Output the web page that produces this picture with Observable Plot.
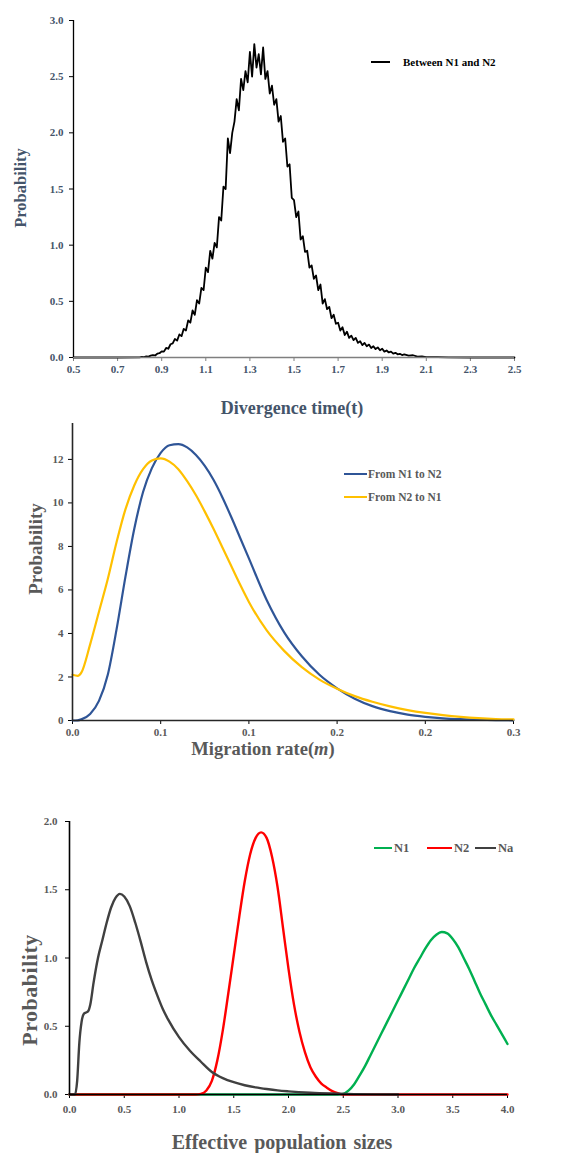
<!DOCTYPE html>
<html>
<head>
<meta charset="utf-8">
<script src="https://cdn.jsdelivr.net/npm/d3@7"></script>
<script src="https://cdn.jsdelivr.net/npm/@observablehq/plot@0.6"></script>
<style>
  body { margin: 0; background: #fff; }
  #wrap { position: relative; width: 571px; height: 1153px; background: #fff; overflow: hidden;
          font-family: "Liberation Serif", "Times New Roman", serif; font-weight: bold; }
  .abs { position: absolute; white-space: nowrap; }
  .c { transform: translate(-50%, -50%); }
  .rot { transform: translate(-50%, -50%) rotate(-90deg); }
  .sw { position: absolute; height: 0; }
  #wrap svg { position: absolute; left: 0; }
</style>
</head>
<body>
<div id="wrap"></div>
<script>
// ---------- Panel 1: Divergence time ----------
const divTime = [0.5, 0.7,
  0.80,0.81,0.82,0.83,0.84,0.85,0.86,0.87,0.88,0.89,
  0.90,0.91,0.92,0.93,0.94,0.95,0.96,0.97,0.98,0.99,
  1.00,1.01,1.02,1.03,1.04,1.05,1.06,1.07,1.08,1.09,
  1.10,1.11,1.12,1.13,1.14,1.15,1.16,1.17,1.18,1.19,
  1.20,1.21,1.22,1.23,1.24,1.25,1.26,1.27,1.28,1.29,
  1.30,1.31,1.32,1.33,1.34,1.35,1.36,1.37,1.38,1.39,
  1.40,1.41,1.42,1.43,1.44,1.45,1.46,1.47,1.48,1.49,
  1.50,1.51,1.52,1.53,1.54,1.55,1.56,1.57,1.58,1.59,
  1.60,1.61,1.62,1.63,1.64,1.65,1.66,1.67,1.68,1.69,
  1.70,1.71,1.72,1.73,1.74,1.75,1.76,1.77,1.78,1.79,
  1.80,1.81,1.82,1.83,1.84,1.85,1.86,1.87,1.88,1.89,
  1.90,1.91,1.92,1.93,1.94,1.95,1.96,1.97,1.98,1.99,
  2.00,2.02,2.04,2.06,2.08,2.10,2.15,2.20,2.30,2.50];
const divProb = [0, 0,
  0.002,0.006,0.004,0.010,0.008,0.016,0.022,0.018,0.034,0.038,
  0.055,0.052,0.085,0.078,0.118,0.125,0.165,0.150,0.205,0.190,
  0.255,0.240,0.330,0.310,0.420,0.380,0.510,0.480,0.620,0.600,
  0.800,0.760,0.950,0.880,1.020,0.980,1.250,1.220,1.520,1.500,
  1.950,1.820,2.000,2.100,2.300,2.200,2.480,2.380,2.550,2.450,
  2.720,2.500,2.790,2.580,2.700,2.520,2.760,2.480,2.550,2.350,
  2.420,2.250,2.300,2.100,2.150,1.920,1.950,1.700,1.720,1.420,
  1.400,1.250,1.300,1.050,1.080,0.940,0.950,0.800,0.820,0.700,
  0.730,0.600,0.650,0.480,0.520,0.430,0.450,0.350,0.380,0.300,
  0.310,0.240,0.270,0.200,0.230,0.175,0.195,0.155,0.175,0.130,
  0.145,0.110,0.130,0.100,0.115,0.085,0.100,0.075,0.090,0.065,
  0.078,0.052,0.062,0.045,0.052,0.035,0.042,0.028,0.033,0.022,
  0.028,0.016,0.020,0.008,0.010,0.004,0.003,0.001,0,0];
const divXTicks = [0.5,0.7,0.9,1.1,1.3,1.5,1.7,1.9,2.1,2.3,2.5];
const divYTicks = [0,0.5,1.0,1.5,2.0,2.5,3.0];

// ---------- Panel 2: Migration rate ----------
const migRate = [0,0.003,0.005,0.01,0.015,0.02,0.025,0.03,0.035,0.04,0.045,0.05,0.055,0.06,0.065,0.07,0.075,0.08,0.085,0.09,0.095,0.1,
  0.11,0.12,0.13,0.14,0.15,0.16,0.17,0.18,0.19,0.2,0.21,0.22,0.23,0.24,0.25];
const migN1toN2 = [0,0.01,0.05,0.3,0.9,2.1,4.2,6.6,8.8,10.5,11.6,12.3,12.65,12.7,12.55,12.2,11.7,11.05,10.25,9.35,8.4,7.45,
  5.55,4.05,2.95,2.1,1.48,1.0,0.66,0.43,0.27,0.17,0.1,0.06,0.035,0.02,0.01];
const migN2toN1 = [2.1,2.05,2.2,3.5,5.0,6.5,8.2,9.7,10.8,11.55,11.95,12.05,11.9,11.55,11.0,10.35,9.6,8.8,7.95,7.1,6.25,5.45,
  4.15,3.2,2.45,1.88,1.46,1.12,0.86,0.65,0.48,0.35,0.25,0.17,0.11,0.07,0.05];
const migXTicks = [0,0.05,0.1,0.15,0.2,0.25];
const migXLabels = ["0.0","0.1","0.1","0.2","0.2","0.3"];
const migYTicks = [0,2,4,6,8,10,12];

// ---------- Panel 3: Effective population sizes ----------
const naX = [0,0.05,0.07,0.09,0.11,0.13,0.15,0.17,0.19,0.22,0.26,0.3,0.34,0.38,0.42,0.46,0.5,0.55,0.6,0.65,0.7,0.75,0.8,0.85,0.9,
  1.0,1.1,1.2,1.3,1.4,1.5,1.6,1.7,1.8,1.9,2.0,2.2,2.4,2.6,2.8,3.0];
const naY = [0,0,0.1,0.38,0.53,0.59,0.6,0.61,0.66,0.82,1.0,1.13,1.26,1.37,1.44,1.47,1.45,1.38,1.26,1.12,0.97,0.84,0.73,0.63,0.55,
  0.42,0.32,0.24,0.165,0.12,0.09,0.068,0.052,0.04,0.03,0.023,0.013,0.007,0.003,0.001,0];
const n2X = [0,1.15,1.2,1.25,1.3,1.35,1.4,1.45,1.5,1.55,1.6,1.65,1.7,1.75,1.8,1.85,1.9,1.95,2.0,2.05,2.1,2.15,2.2,2.25,2.3,2.35,2.4,2.45,2.5,4.0];
const n2Y = [0,0,0.005,0.03,0.1,0.25,0.47,0.74,1.02,1.3,1.56,1.76,1.88,1.92,1.88,1.74,1.52,1.22,0.92,0.66,0.46,0.31,0.2,0.13,0.08,0.05,0.025,0.01,0,0];
const n1X = [0,2.45,2.5,2.55,2.6,2.65,2.7,2.75,2.8,2.85,2.9,2.95,3.0,3.05,3.1,3.15,3.2,3.25,3.3,3.35,3.4,3.45,3.5,3.55,3.6,3.65,3.7,3.75,3.8,3.85,3.9,3.95,4.0];
const n1Y = [0,0,0.005,0.03,0.075,0.14,0.21,0.29,0.37,0.45,0.53,0.61,0.69,0.77,0.85,0.93,1.0,1.07,1.13,1.17,1.19,1.18,1.14,1.08,1.0,0.92,0.83,0.74,0.66,0.58,0.51,0.44,0.37];
const popXTicks = [0,0.5,1.0,1.5,2.0,2.5,3.0,3.5,4.0];
const popYTicks = [0,0.5,1.0,1.5,2.0];

const f1 = d3.format(".1f");
const baseStyle = {fontFamily: "Liberation Serif, serif", fontWeight: "bold", fontSize: "11px", background: "transparent", overflow: "visible"};
const wrap = document.getElementById("wrap");

function place(svg, top) { svg.style.top = top + "px"; wrap.appendChild(svg); }
function label(text, x, y, size, color, cls, extra) {
  const d = document.createElement("div");
  d.className = "abs " + cls;
  d.style.left = x + "px"; d.style.top = y + "px";
  d.style.fontSize = size + "px"; d.style.color = color;
  if (extra) Object.assign(d.style, extra);
  d.innerHTML = text;
  wrap.appendChild(d);
}
function swatch(x1, x2, y, color, w) {
  const d = document.createElement("div");
  d.className = "sw";
  d.style.left = x1 + "px"; d.style.width = (x2 - x1) + "px";
  d.style.top = (y - w / 2) + "px";
  d.style.borderTop = w + "px solid " + color;
  wrap.appendChild(d);
}

// Panel 1
const d1 = divTime.map((t, i) => ({t, p: divProb[i]}));
place(Plot.plot({
  width: 571, height: 400, marginTop: 20, marginBottom: 43, marginLeft: 73, marginRight: 57,
  style: baseStyle,
  x: {domain: [0.5, 2.5]}, y: {domain: [0, 3]},
  marks: [
    Plot.axisY({ticks: divYTicks, tickFormat: f1, tickSize: 4, tickPadding: 6, stroke: "#000", fill: "#44546a", label: null}),
    Plot.axisX({ticks: divXTicks, tickFormat: f1, tickSize: 4, tickPadding: 4, stroke: "#7f7f7f", fill: "#44546a", label: null}),
    Plot.line(d1, {x: "t", y: "p", stroke: "#000", strokeWidth: 1.8}),
    Plot.ruleY([0], {stroke: "#7f7f7f", strokeWidth: 1.6}),
    Plot.ruleX([0.5], {stroke: "#000", strokeWidth: 1.3})
  ]
}), 0);
label("Probability", 21, 188, 16.5, "#44546a", "rot");
label("Divergence time(t)", 292, 408, 18, "#44546a", "c");
swatch(371, 390, 62, "#000", 2);
label("Between N1 and N2", 403, 62, 11, "#000", "", {transform: "translateY(-50%)"});

// Panel 2
const d2 = [
  ...migRate.map((m, i) => ({m, p: migN1toN2[i], s: "From N1 to N2"})),
  ...migRate.map((m, i) => ({m, p: migN2toN1[i], s: "From N2 to N1"}))
];
place(Plot.plot({
  width: 571, height: 345, marginTop: 8, marginBottom: 40, marginLeft: 72, marginRight: 58,
  style: baseStyle,
  x: {domain: [0, 0.25]}, y: {domain: [0, 13.65]},
  color: {domain: ["From N1 to N2", "From N2 to N1"], range: ["#2f5597", "#ffc000"]},
  marks: [
    Plot.axisY({ticks: migYTicks, tickFormat: d => String(d), tickSize: 4, tickPadding: 5, stroke: "#000", fill: "#595959", label: null}),
    Plot.axisX({ticks: migXTicks, tickFormat: d => migXLabels[migXTicks.indexOf(d)], tickSize: 4, tickPadding: 4, stroke: "#000", fill: "#595959", label: null}),
    Plot.line(d2, {x: "m", y: "p", stroke: "s", strokeWidth: 2.2, curve: "monotone-x"}),
    Plot.ruleY([0], {stroke: "#262626", strokeWidth: 1.6}),
    Plot.ruleX([0], {stroke: "#262626", strokeWidth: 1.6})
  ]
}), 415);
label("Probability", 36, 549, 19, "#595959", "rot");
label("Migration rate(<i>m</i>)", 263, 749, 18.5, "#595959", "c");
swatch(344, 367, 474, "#2f5597", 2.5);
label("From N1 to N2", 368, 474, 11.5, "#595959", "", {transform: "translateY(-50%)"});
swatch(344, 367, 497, "#ffc000", 2.5);
label("From N2 to N1", 368, 497, 11.5, "#595959", "", {transform: "translateY(-50%)"});

// Panel 3
const d3data = [
  ...n1X.map((x, i) => ({x, p: n1Y[i], s: "N1"})),
  ...n2X.map((x, i) => ({x, p: n2Y[i], s: "N2"})),
  ...naX.map((x, i) => ({x, p: naY[i], s: "Na"}))
];
place(Plot.plot({
  width: 571, height: 363, marginTop: 31, marginBottom: 59, marginLeft: 69, marginRight: 64,
  style: baseStyle,
  x: {domain: [0, 4]}, y: {domain: [0, 2]},
  color: {domain: ["N1", "N2", "Na"], range: ["#00b050", "#ff0000", "#404040"]},
  marks: [
    Plot.axisY({ticks: popYTicks, tickFormat: f1, tickSize: 4, tickPadding: 8, stroke: "#000", fill: "#595959", label: null}),
    Plot.axisX({ticks: popXTicks, tickFormat: f1, tickSize: 4, tickPadding: 7, stroke: "#000", fill: "#595959", label: null}),
    Plot.line(d3data, {x: "x", y: "p", stroke: "s", z: "s", strokeWidth: 2.4, curve: "monotone-x"}),
    Plot.ruleY([0], {stroke: "#000", strokeWidth: 1.4}),
    Plot.ruleX([0], {stroke: "#000", strokeWidth: 1.6})
  ]
}), 790);
label("Probability", 30, 990, 22, "#595959", "rot", {letterSpacing: "0.5px"});
label("Effective population sizes", 282, 1142, 20, "#595959", "c", {wordSpacing: "2px"});
swatch(374, 392, 848, "#00b050", 2.5);
label("N1", 394, 848, 12.5, "#595959", "", {transform: "translateY(-50%)"});
swatch(427, 452, 848, "#ff0000", 2.5);
label("N2", 454, 848, 12.5, "#595959", "", {transform: "translateY(-50%)"});
swatch(475, 496, 848, "#404040", 2.5);
label("Na", 498, 848, 12.5, "#595959", "", {transform: "translateY(-50%)"});
</script>
</body>
</html>
